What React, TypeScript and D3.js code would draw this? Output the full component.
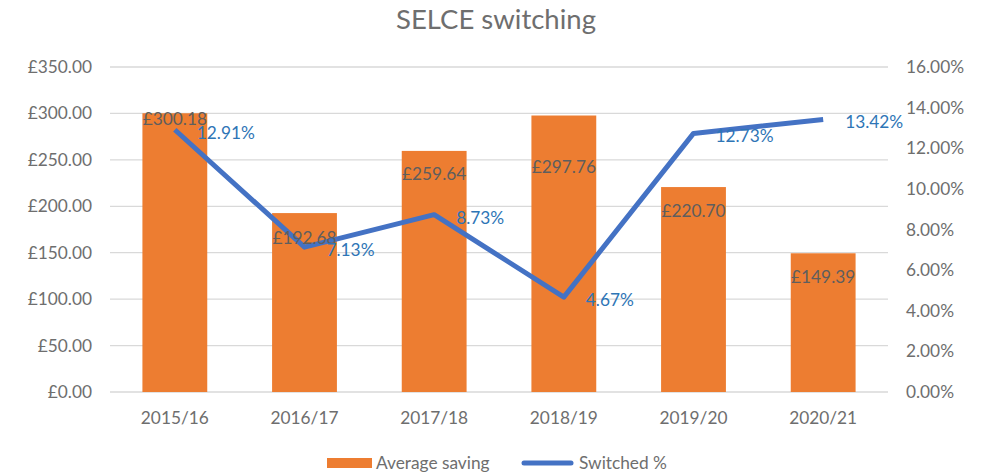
import React from "react";
import * as d3 from "d3";

const categories = ["2015/16", "2016/17", "2017/18", "2018/19", "2019/20", "2020/21"];
const avgSaving = [300.18, 192.68, 259.64, 297.76, 220.7, 149.39];
const switchedPct = [12.91, 7.13, 8.73, 4.67, 12.73, 13.42];
const leftTicks = [0, 50, 100, 150, 200, 250, 300, 350];
const rightTicks = [0, 2, 4, 6, 8, 10, 12, 14, 16];
const barLabelDy = [6, 25, 23, 51, 24, 24];

const W = 994, H = 476;
const M = { left: 110, right: 888, top: 67, bottom: 392 };
const FONT = "Lato, 'Open Sans', sans-serif";
const GRAY = "#6e6e6e";
const FS = 17.3;

export default function App() {
  const x = d3.scaleBand<string>().domain(categories).range([M.left, M.right]).paddingInner(0.5).paddingOuter(0.25);
  const yL = d3.scaleLinear().domain([0, 350]).range([M.bottom, M.top]);
  const yR = d3.scaleLinear().domain([0, 16]).range([M.bottom, M.top]);
  const cx = (c: string) => (x(c) as number) + x.bandwidth() / 2;
  const line = d3.line<number>().x((_, i) => cx(categories[i])).y((d) => yR(d));

  return (
    <svg width={W} height={H} style={{ position: "absolute", left: 0, top: 0, background: "#fff" }} fontFamily={FONT}>
      <text x={496} y={29} textAnchor="middle" fontSize={27.5} fill={GRAY}>SELCE switching</text>
      {leftTicks.map((t) => (
        <g key={t}>
          <line x1={M.left} x2={M.right} y1={yL(t)} y2={yL(t)} stroke="#d9d9d9" strokeWidth={1.3} />
          <text x={92} y={yL(t)} dy="0.35em" textAnchor="end" fontSize={FS} fill={GRAY}>{"£" + t.toFixed(2)}</text>
        </g>
      ))}
      {rightTicks.map((t) => (
        <text key={t} x={906} y={yR(t)} dy="0.35em" textAnchor="start" fontSize={FS} fill={GRAY}>{t.toFixed(2) + "%"}</text>
      ))}
      {categories.map((c, i) => (
        <rect key={c} x={x(c)} y={yL(avgSaving[i])} width={x.bandwidth()} height={M.bottom - yL(avgSaving[i])} fill="#ED7D31" />
      ))}
      {categories.map((c) => (
        <text key={c} x={cx(c)} y={418} dy="0.35em" textAnchor="middle" fontSize={FS} fill={GRAY}>{c}</text>
      ))}
      <path d={line(switchedPct) as string} fill="none" stroke="#4472C4" strokeWidth={5} strokeLinejoin="round" />
      {categories.map((c, i) => (
        <text key={c} x={cx(c)} y={yL(avgSaving[i]) + barLabelDy[i]} dy="0.35em" textAnchor="middle" fontSize={FS} fill="#5e5e5e">{"£" + avgSaving[i].toFixed(2)}</text>
      ))}
      {categories.map((c, i) => (
        <text key={c} x={cx(c) + 22} y={yR(switchedPct[i]) + 3} dy="0.35em" textAnchor="start" fontSize={FS} fill="#2E75B6">{switchedPct[i].toFixed(2) + "%"}</text>
      ))}
      <rect x={327} y={458} width={45} height={10} fill="#ED7D31" />
      <text x={376} y={463} dy="0.35em" fontSize={FS} fill={GRAY}>Average saving</text>
      <line x1={524} x2={571} y1={463} y2={463} stroke="#4472C4" strokeWidth={5} strokeLinecap="round" />
      <text x={579} y={463} dy="0.35em" fontSize={FS} fill={GRAY}>Switched %</text>
    </svg>
  );
}
